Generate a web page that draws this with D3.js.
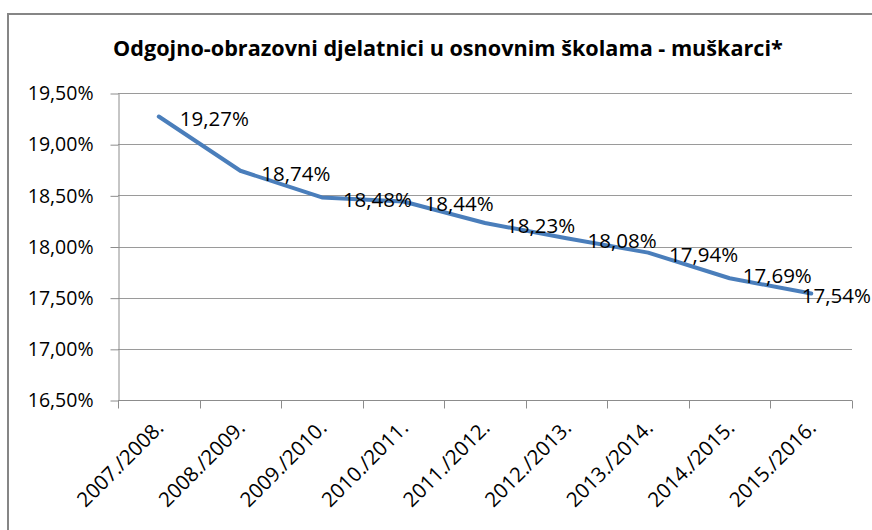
<!DOCTYPE html>
<html>
<head>
<meta charset="utf-8">
<script src="https://cdn.jsdelivr.net/npm/d3@7"></script>
<style>
  html, body { margin: 0; padding: 0; background: #fff; }
  svg { display: block; }
  text { font-family: "Open Sans", "Liberation Sans", sans-serif; fill: #000; }
</style>
</head>
<body>
<svg id="chart" width="872" height="530"></svg>
<script>
const title = "Odgojno-obrazovni djelatnici u osnovnim školama - muškarci*";
const categories = ["2007./2008.", "2008./2009.", "2009./2010.", "2010./2011.", "2011./2012.",
                    "2012./2013.", "2013./2014.", "2014./2015.", "2015./2016."];
const values = [19.27, 18.74, 18.48, 18.44, 18.23, 18.08, 17.94, 17.69, 17.54];
const yTickValues = [16.5, 17.0, 17.5, 18.0, 18.5, 19.0, 19.5];
const yTickLabels = ["16,50%", "17,00%", "17,50%", "18,00%", "18,50%", "19,00%", "19,50%"];

const svg = d3.select("#chart");
const W = 872, H = 530;
const plot = { left: 118, right: 852, top: 93, bottom: 400 };

// outer chart border (extends past the right/bottom edges)
svg.append("rect")
  .attr("x", 8).attr("y", 14)
  .attr("width", 900).attr("height", 600)
  .attr("fill", "#fff")
  .attr("stroke", "#868686").attr("stroke-width", 2);

const x = d3.scaleBand().domain(categories).range([plot.left, plot.right]).padding(0);
const y = d3.scaleLinear().domain([16.5, 19.5]).range([plot.bottom, plot.top]);

// gridlines
svg.append("g").selectAll("line")
  .data(yTickValues.filter(v => v !== 16.5))
  .join("line")
  .attr("x1", plot.left).attr("x2", plot.right)
  .attr("y1", d => Math.round(y(d)) + 0.5).attr("y2", d => Math.round(y(d)) + 0.5)
  .attr("stroke", "#9a9a9a").attr("stroke-width", 1);

// Y axis
const yAxis = d3.axisLeft(y)
  .tickValues(yTickValues)
  .tickFormat((d, i) => yTickLabels[i])
  .tickSize(8).tickSizeOuter(0).tickPadding(17);
const gy = svg.append("g")
  .attr("transform", `translate(${plot.left + 0.5},0.5)`)
  .call(yAxis);
gy.selectAll("path, line").attr("stroke", "#8c8c8c");
gy.selectAll("text").attr("font-size", 19.5).attr("fill", "#000")
  .attr("font-family", "'Open Sans', 'Liberation Sans', sans-serif");

// X axis (ticks at category boundaries)
const gx = svg.append("g").attr("transform", `translate(0,${plot.bottom + 0.5})`);
gx.append("line")
  .attr("x1", plot.left).attr("x2", plot.right)
  .attr("stroke", "#8c8c8c");
const boundaries = categories.map(c => x(c)).concat([plot.right]);
gx.selectAll("line.tick").data(boundaries).join("line")
  .attr("class", "tick")
  .attr("x1", d => Math.round(d) + 0.5).attr("x2", d => Math.round(d) + 0.5)
  .attr("y1", 0).attr("y2", 8)
  .attr("stroke", "#8c8c8c");
svg.append("g").selectAll("text").data(categories).join("text")
  .attr("transform", d => `translate(${x(d) + x.bandwidth() / 2 + 1},${plot.bottom + 24}) rotate(-45)`)
  .attr("text-anchor", "end")
  .attr("dy", "0.35em")
  .attr("font-size", 20.5)
  .text(d => d);

// line
const line = d3.line()
  .x((d, i) => x(categories[i]) + x.bandwidth() / 2)
  .y(d => y(d));
svg.append("path")
  .datum(values)
  .attr("d", line)
  .attr("fill", "none")
  .attr("stroke", "#4a7ebb")
  .attr("stroke-width", 4)
  .attr("stroke-linejoin", "round")
  .attr("stroke-linecap", "round");

// data labels (placed right of each point, kept inside the chart, nudged on collision)
const fmt = v => v.toFixed(2).replace(".", ",") + "%";
const labels = svg.append("g").selectAll("text").data(values).join("text")
  .attr("font-size", 20.5)
  .attr("dy", "0.38em")
  .text(d => fmt(d));
const boxes = [];
labels.each(function (d, i) {
  const px = x(categories[i]) + x.bandwidth() / 2;
  const py = y(d) + 2;
  const w = this.getComputedTextLength();
  let lx = px + 21;
  if (lx + w > W - 1) lx = W - 1 - w;
  boxes.push({ el: this, x: lx, y: py, w: w });
});
for (let i = boxes.length - 2; i >= 0; i--) {
  const a = boxes[i], b = boxes[i + 1];
  const overlapX = a.x + a.w - b.x;
  const overlapY = 17 - Math.abs(a.y - b.y);
  if (overlapX > 0 && overlapY > 0) { a.x -= 8; a.y -= 5; }
}
boxes.forEach(b => d3.select(b.el).attr("x", b.x).attr("y", b.y));

// title, fitted to its measured width in the reference
const t = svg.append("text")
  .attr("x", 448).attr("y", 56)
  .attr("text-anchor", "middle")
  .attr("font-weight", "bold")
  .attr("font-size", 20)
  .text(title);
const tw = t.node().getComputedTextLength();
t.attr("font-size", 20 * 670 / tw);
</script>
</body>
</html>
